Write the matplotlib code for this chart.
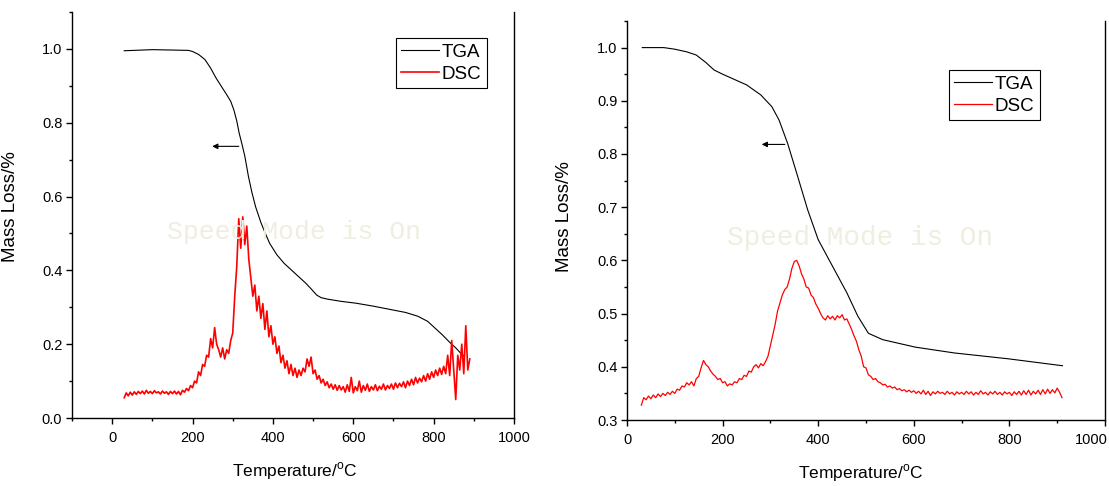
import numpy as np
import matplotlib
matplotlib.use("Agg")
import matplotlib.pyplot as plt
import matplotlib.transforms as mtransforms
from matplotlib.ticker import MultipleLocator, FormatStrFormatter

plt.rcParams['font.family'] = ['Liberation Sans', 'DejaVu Sans']
plt.rcParams['mathtext.fontset'] = 'custom'
plt.rcParams['mathtext.rm'] = 'Liberation Sans'

# ---------------- Left panel data ----------------
tga1_t = [30, 100, 190, 200, 215, 231, 245, 258, 272, 285, 295, 303, 310, 316, 323, 330, 339, 348, 357,
          370, 380, 392, 410, 428, 455, 482, 495, 509, 520, 536, 570, 607, 650, 697, 730, 760, 785, 805, 822, 840, 855, 867, 875]
tga1_m = [0.995, 0.998, 0.996, 0.993, 0.985, 0.971, 0.948, 0.922, 0.898, 0.876, 0.858, 0.834, 0.805, 0.772, 0.742, 0.710, 0.655, 0.610, 0.572,
          0.530, 0.503, 0.473, 0.442, 0.419, 0.392, 0.365, 0.350, 0.333, 0.326, 0.322, 0.316, 0.311, 0.303, 0.293, 0.286, 0.276, 0.262, 0.242, 0.225, 0.205, 0.190, 0.176, 0.168]

dsc1_start, dsc1_step = 30, 5
dsc1 = [0.055, 0.068, 0.060, 0.070, 0.062, 0.071, 0.064, 0.072, 0.066, 0.073,
        0.065, 0.075, 0.067, 0.072, 0.066, 0.074, 0.068, 0.071, 0.065, 0.073,
        0.067, 0.071, 0.064, 0.072, 0.066, 0.073, 0.065, 0.072, 0.063, 0.075,
        0.070, 0.080, 0.074, 0.088, 0.082, 0.100, 0.095, 0.125, 0.115, 0.145,
        0.140, 0.170, 0.165, 0.215, 0.190, 0.245, 0.200, 0.185, 0.165, 0.190,
        0.160, 0.185, 0.175, 0.210, 0.230, 0.330, 0.410, 0.540, 0.460, 0.545,
        0.470, 0.520, 0.430, 0.380, 0.330, 0.360, 0.290, 0.330, 0.270, 0.310,
        0.240, 0.290, 0.220, 0.250, 0.200, 0.220, 0.175, 0.195, 0.150, 0.170,
        0.135, 0.155, 0.120, 0.145, 0.115, 0.135, 0.110, 0.130, 0.115, 0.135,
        0.125, 0.160, 0.140, 0.165, 0.120, 0.130, 0.105, 0.115, 0.095, 0.105,
        0.088, 0.098, 0.082, 0.092, 0.078, 0.090, 0.075, 0.088, 0.076, 0.085,
        0.070, 0.090, 0.072, 0.110, 0.068, 0.085, 0.074, 0.100, 0.070, 0.088,
        0.075, 0.092, 0.072, 0.085, 0.076, 0.090, 0.074, 0.086, 0.078, 0.092,
        0.076, 0.088, 0.080, 0.092, 0.078, 0.095, 0.082, 0.094, 0.085, 0.098,
        0.082, 0.100, 0.088, 0.105, 0.090, 0.110, 0.095, 0.108, 0.098, 0.115,
        0.100, 0.120, 0.105, 0.125, 0.110, 0.130, 0.115, 0.135, 0.118, 0.140,
        0.120, 0.170, 0.115, 0.210, 0.130, 0.050, 0.170, 0.130, 0.200, 0.120,
        0.250, 0.130, 0.160]

# ---------------- Right panel data ----------------
tga2_t = [32, 77, 100, 125, 145, 165, 182, 200, 220, 250, 280, 303, 318, 336, 355, 378, 400, 430, 460, 483, 505, 535, 603, 685, 798, 911]
tga2_m = [1.000, 1.000, 0.997, 0.992, 0.986, 0.972, 0.958, 0.950, 0.942, 0.930, 0.911, 0.889, 0.864, 0.820, 0.764, 0.695, 0.639, 0.589, 0.539, 0.495, 0.463, 0.451, 0.437, 0.426, 0.415, 0.402]

dsc2_start, dsc2_step = 30, 5
dsc2 = [0.328, 0.342, 0.338, 0.345, 0.340, 0.347, 0.342, 0.349, 0.344, 0.350,
        0.346, 0.352, 0.348, 0.354, 0.350, 0.358, 0.356, 0.364, 0.362, 0.370,
        0.366, 0.372, 0.364, 0.378, 0.382, 0.398, 0.412, 0.404, 0.400, 0.392,
        0.386, 0.382, 0.376, 0.378, 0.370, 0.372, 0.364, 0.368, 0.366, 0.372,
        0.370, 0.378, 0.376, 0.384, 0.382, 0.392, 0.390, 0.400, 0.404, 0.398,
        0.406, 0.402, 0.410, 0.420, 0.440, 0.460, 0.480, 0.505, 0.520, 0.535,
        0.545, 0.550, 0.565, 0.585, 0.598, 0.600, 0.590, 0.575, 0.565, 0.550,
        0.548, 0.535, 0.530, 0.518, 0.510, 0.500, 0.492, 0.488, 0.496, 0.490,
        0.495, 0.488, 0.496, 0.492, 0.498, 0.488, 0.490, 0.480, 0.470, 0.458,
        0.448, 0.432, 0.420, 0.400, 0.398, 0.385, 0.382, 0.376, 0.378, 0.372,
        0.370, 0.366, 0.367, 0.362, 0.364, 0.360, 0.362, 0.357, 0.359, 0.355,
        0.357, 0.353, 0.356, 0.352, 0.355, 0.350, 0.354, 0.349, 0.356, 0.348,
        0.354, 0.346, 0.353, 0.349, 0.354, 0.350, 0.352, 0.348, 0.354, 0.349,
        0.352, 0.347, 0.353, 0.349, 0.352, 0.348, 0.354, 0.349, 0.353, 0.347,
        0.352, 0.348, 0.355, 0.349, 0.352, 0.347, 0.353, 0.349, 0.354, 0.348,
        0.352, 0.347, 0.353, 0.349, 0.352, 0.346, 0.353, 0.348, 0.354, 0.347,
        0.355, 0.348, 0.356, 0.347, 0.354, 0.349, 0.356, 0.348, 0.357, 0.349,
        0.358, 0.350, 0.357, 0.351, 0.360, 0.352, 0.342]

xticks1 = [0, 200, 400, 600, 800, 1000]
xticks2 = [0, 200, 400, 600, 800, 1000]
xlabel = "Temperature/$^{\\mathregular{o}}$C"
ylabel = "Mass Loss/%"
watermark = "Speed Mode is On"

W, H = 1109, 486
fig = plt.figure(figsize=(W / 100, H / 100), dpi=100)

def px_axes(l, r, t, b):
    return fig.add_axes([l / W, 1 - b / H, (r - l) / W, (b - t) / H])

ax1 = px_axes(72, 514, 12, 418)
ax2 = px_axes(627, 1105, 21, 420)

def style(ax, xlim, ylim, xticks, xmin, ymaj, ymin, xlab_pos, ylab_pos):
    ax.set_xlim(*xlim)
    ax.set_ylim(*ylim)
    ax.spines['top'].set_visible(False)
    for s in ['left', 'right', 'bottom']:
        ax.spines[s].set_linewidth(1.0)
    ax.set_xticks(xticks)
    ax.xaxis.set_minor_locator(MultipleLocator(xmin))
    ax.yaxis.set_major_locator(MultipleLocator(ymaj))
    ax.yaxis.set_minor_locator(MultipleLocator(ymin))
    ax.tick_params(which='major', direction='out', length=4.5, width=1, labelsize=10.5)
    ax.tick_params(axis='y', which='major', pad=2.5)
    ax.tick_params(axis='x', which='major', pad=5)
    ax.tick_params(which='minor', direction='out', length=2.5, width=1)
    ax.tick_params(axis='y', right=False, which='both')
    ax.yaxis.set_major_formatter(FormatStrFormatter('%.1f'))
    ax.set_xlabel(xlabel, fontsize=12.5)
    ax.set_ylabel(ylabel, fontsize=13.5)
    ax.xaxis.set_label_coords(*xlab_pos)
    ax.yaxis.set_label_coords(*ylab_pos)

def legend(ax, anchor):
    leg = ax.legend(loc='upper right', bbox_to_anchor=anchor, fontsize=13.5,
                    fancybox=False, framealpha=1, edgecolor='black', handlelength=2.0,
                    handletextpad=0.15, borderpad=0.3, labelspacing=0.25, borderaxespad=0)
    leg.get_frame().set_linewidth(0.8)
    return leg

# Left
style(ax1, (-100, 1000), (0, 1.1), xticks1, 100, 0.2, 0.1, (0.505, -0.105), (-0.12, 0.52))
x1 = dsc1_start + dsc1_step * np.arange(len(dsc1))
ax1.plot(tga1_t, tga1_m, color='black', lw=0.8, label='TGA')
ax1.plot(x1, dsc1, color='#ff0000', lw=1.2, label='DSC')
ax1.annotate('', xy=(242, 0.736), xytext=(322, 0.736),
             arrowprops=dict(arrowstyle='-|>', color='black', lw=0.8, mutation_scale=8))
legend(ax1, (0.939, 0.936))

# Right
style(ax2, (0, 1000), (0.3, 1.05), xticks2, 100, 0.1, 0.05, (0.49, -0.105), (-0.113, 0.51))
x2 = dsc2_start + dsc2_step * np.arange(len(dsc2))
ax2.plot(tga2_t, tga2_m, color='black', lw=0.8, label='TGA')
ax2.plot(x2, dsc2, color='#ff0000', lw=0.9, label='DSC')
ax2.annotate('', xy=(276, 0.818), xytext=(336, 0.818),
             arrowprops=dict(arrowstyle='-|>', color='black', lw=0.8, mutation_scale=8))
legend(ax2, (0.864, 0.877))

# keep the last right-panel tick label inside the figure, as in the reference
last = ax2.xaxis.get_major_ticks()[len(xticks2) - 1].label1
last.set_horizontalalignment('right')
last.set_transform(last.get_transform() + mtransforms.ScaledTranslation(3 / 100, 0, fig.dpi_scale_trans))

# Watermarks
fig.text(294 / W, 1 - 232 / H, watermark, family=['Liberation Mono', 'DejaVu Sans Mono'],
         fontsize=19, color='#efeedf', ha='center', va='center', zorder=0)
fig.text(860 / W, 1 - 238 / H, watermark, family=['Liberation Mono', 'DejaVu Sans Mono'],
         fontsize=20, color='#efeedf', ha='center', va='center', zorder=0)

fig.savefig('out.png', dpi=100)
